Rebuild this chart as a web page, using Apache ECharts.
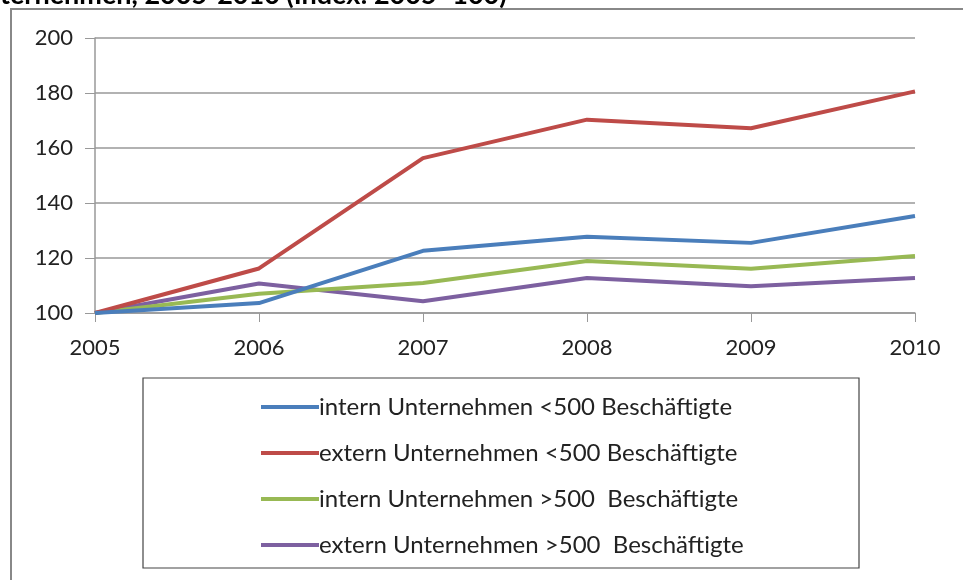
<!DOCTYPE html>
<html>
<head>
<meta charset="utf-8">
<script src="https://cdn.jsdelivr.net/npm/echarts@6/dist/echarts.min.js"></script>
<style>
  html, body { margin: 0; padding: 0; background: #fff; }
  #chart { width: 963px; height: 580px; }
</style>
</head>
<body>
<div id="chart"></div>
<script>
// Daten (Index: 2005 = 100)
var years = ['2005', '2006', '2007', '2008', '2009', '2010'];
var seriesNames = [
  'intern Unternehmen <500 Beschäftigte',
  'extern Unternehmen <500 Beschäftigte',
  'intern Unternehmen >500  Beschäftigte',
  'extern Unternehmen >500  Beschäftigte'
];
var internKlein = [100, 103.6, 122.6, 127.7, 125.5, 135.3];
var externKlein = [100, 116.2, 156.3, 170.3, 167.2, 180.6];
var internGross = [100, 107, 110.9, 118.9, 116.1, 120.7];
var externGross = [100, 110.7, 104.3, 112.7, 109.7, 112.7];
var colors = ['#4a7ebb', '#be4b48', '#98b954', '#7d60a0'];
var titleText = 'ternehmen, 2005-2010 (Index: 2005=100)';

var values = [internKlein, externKlein, internGross, externGross];
var font = 'Lato, "Liberation Sans", sans-serif';

var seriesData = [];
values.map(function (item, index) {
  seriesData.push({
    name: seriesNames[index],
    type: 'line',
    data: item,
    symbol: 'none',
    z: 10 - index,
    lineStyle: { width: 4, color: colors[index] },
    itemStyle: { color: colors[index] }
  });
});

var myChart = echarts.init(document.getElementById('chart'));
myChart.setOption({
  animation: false,
  backgroundColor: '#fff',
  color: colors,
  grid: { left: 95, right: 48, top: 38, bottom: 267 },
  legend: {
    orient: 'vertical',
    left: 256,
    top: 390,
    icon: 'rect',
    itemWidth: 58,
    itemHeight: 4,
    itemGap: 22,
    textStyle: { fontFamily: font, fontSize: 24, color: '#222', padding: [0, 0, 0, -5] },
    data: seriesNames
  },
  graphic: [
    {
      type: 'rect',
      shape: { x: 11, y: 9, width: 1000, height: 1000 },
      style: { fill: 'none', stroke: '#888', lineWidth: 2 },
      silent: true
    },
    {
      type: 'rect',
      shape: { x: 143, y: 378, width: 716, height: 190 },
      style: { fill: 'none', stroke: '#444', lineWidth: 1.2 },
      silent: true
    },
    {
      type: 'text',
      x: 0,
      y: 9,
      style: {
        text: titleText,
        font: 'bold 27px ' + font,
        fill: '#000',
        verticalAlign: 'bottom'
      },
      silent: true
    }
  ],
  xAxis: {
    type: 'category',
    data: years,
    boundaryGap: false,
    axisLine: { lineStyle: { color: '#999', width: 1.5 } },
    axisTick: { show: true, length: 9, alignWithLabel: true, lineStyle: { color: '#999' } },
    axisLabel: { fontFamily: font, fontSize: 22, color: '#222', margin: 24 }
  },
  yAxis: {
    type: 'value',
    min: 100,
    max: 200,
    interval: 20,
    axisLine: { show: true, lineStyle: { color: '#999', width: 1.5 } },
    axisTick: { show: true, length: 10, lineStyle: { color: '#999' } },
    axisLabel: { fontFamily: font, fontSize: 22, color: '#222', margin: 22 },
    splitLine: { lineStyle: { color: '#999', width: 1.5 } }
  },
  series: seriesData
});
</script>
</body>
</html>
